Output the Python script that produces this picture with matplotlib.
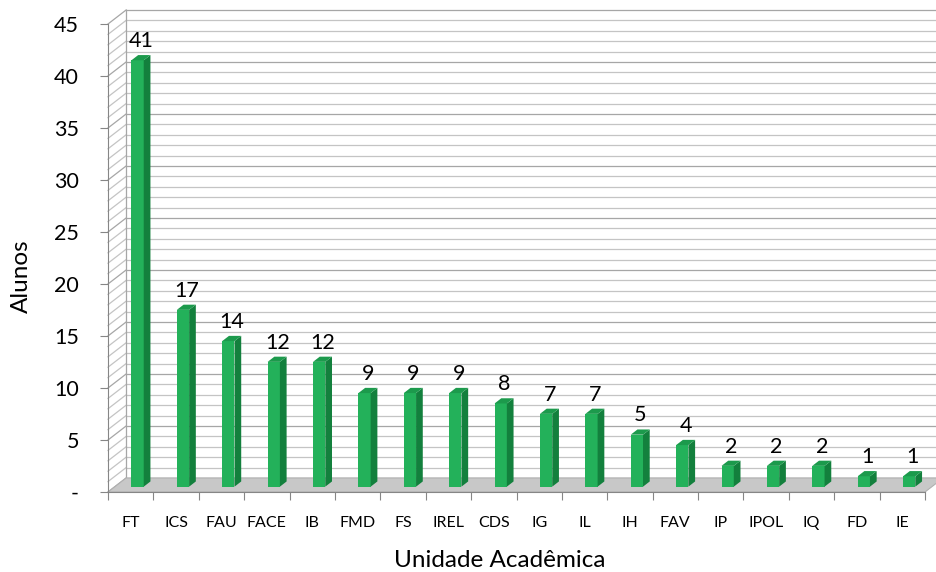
import numpy as np
import matplotlib.pyplot as plt
from matplotlib.patches import Polygon, Rectangle

plt.rcParams['font.family'] = ['Lato', 'DejaVu Sans']

# Dados: alunos por unidade acadêmica
unidades = ['FT', 'ICS', 'FAU', 'FACE', 'IB', 'FMD', 'FS', 'IREL', 'CDS',
            'IG', 'IL', 'IH', 'FAV', 'IP', 'IPOL', 'IQ', 'FD', 'IE']
alunos = [41, 17, 14, 12, 12, 9, 9, 9, 8, 7, 7, 5, 4, 2, 2, 2, 1, 1]
yticks = [0, 5, 10, 15, 20, 25, 30, 35, 40, 45]
ytick_labels = ['-', '5', '10', '15', '20', '25', '30', '35', '40', '45']

n = len(unidades)
ymax = 45

# profundidade do efeito 3D (em unidades dos dados)
DX, DY = 0.40, 1.35
f1, f2 = 0.38, 0.75      # posição das colunas na profundidade
hw = 0.135               # meia largura da coluna

fig = plt.figure(figsize=(9.36, 5.72), dpi=100)
ax = fig.add_axes([108 / 936, 80 / 572, 817 / 936, 468 / 572])
ax.set_xlim(0, n)
ax.set_ylim(0, ymax)
ax.patch.set_alpha(0)

# parede do fundo e parede lateral
for v in range(0, ymax + 1):
    cor = '#a6a6a6' if v % 5 == 0 else '#c4c4c4'
    ax.plot([DX, n + DX], [v + DY, v + DY], color=cor, lw=0.9, clip_on=False, zorder=1)
    ax.plot([0, DX], [v, v + DY], color=cor, lw=0.9, clip_on=False, zorder=1)
ax.plot([DX, DX], [DY, ymax + DY], color='#a6a6a6', lw=0.9, clip_on=False, zorder=1)

# piso
piso = Polygon([(0, 0), (n, 0), (n + DX, DY), (DX, DY)], closed=True,
               facecolor='#c8c8c8', edgecolor='#b0b0b0', lw=0.8, clip_on=False, zorder=2)
ax.add_patch(piso)

# colunas 3D
for i, v in enumerate(alunos):
    cx = i + 0.5
    x0 = cx - hw + f1 * DX
    x1 = cx + hw + f1 * DX
    y0 = f1 * DY
    ddx = (f2 - f1) * DX
    ddy = (f2 - f1) * DY
    ax.add_patch(Rectangle((x0, y0), x1 - x0, v, facecolor='#23b15a',
                           edgecolor='none', clip_on=False, zorder=3))
    ax.add_patch(Polygon([(x1, y0), (x1 + ddx, y0 + ddy), (x1 + ddx, y0 + ddy + v), (x1, y0 + v)],
                         closed=True, facecolor='#13803d', edgecolor='none', clip_on=False, zorder=3))
    ax.add_patch(Polygon([(x0, y0 + v), (x1, y0 + v), (x1 + ddx, y0 + ddy + v), (x0 + ddx, y0 + ddy + v)],
                         closed=True, facecolor='#1c9a4c', edgecolor='none', clip_on=False, zorder=3))
    ax.text(cx + 0.58 * DX, v + f2 * DY + 0.4, str(v), ha='center', va='bottom',
            fontsize=15.5, color='black', zorder=4)

# eixos
for s in ['top', 'right']:
    ax.spines[s].set_visible(False)
ax.spines['left'].set_color('#868686')
ax.spines['bottom'].set_color('#868686')
ax.spines['left'].set_zorder(5)
ax.spines['bottom'].set_zorder(5)

ax.set_yticks(yticks)
ax.set_yticklabels(ytick_labels, fontsize=15.5)
ax.tick_params(axis='y', length=6, color='#868686', pad=15)

ax.set_xticks(np.arange(0, n + 1))
ax.set_xticklabels([])
ax.set_xticks(np.arange(n) + 0.5, minor=True)
ax.set_xticklabels(unidades, minor=True, fontsize=11.5)
ax.tick_params(axis='x', which='major', length=6, color='#868686')
ax.tick_params(axis='x', which='minor', length=0, pad=17)

fig.text(21 / 936, 1 - 276 / 572, 'Alunos', rotation=90, ha='center', va='center', fontsize=17.5)
fig.text(500 / 936, 5 / 572, 'Unidade Acadêmica', ha='center', va='baseline', fontsize=17.5)

fig.savefig('out.png', dpi=100)
